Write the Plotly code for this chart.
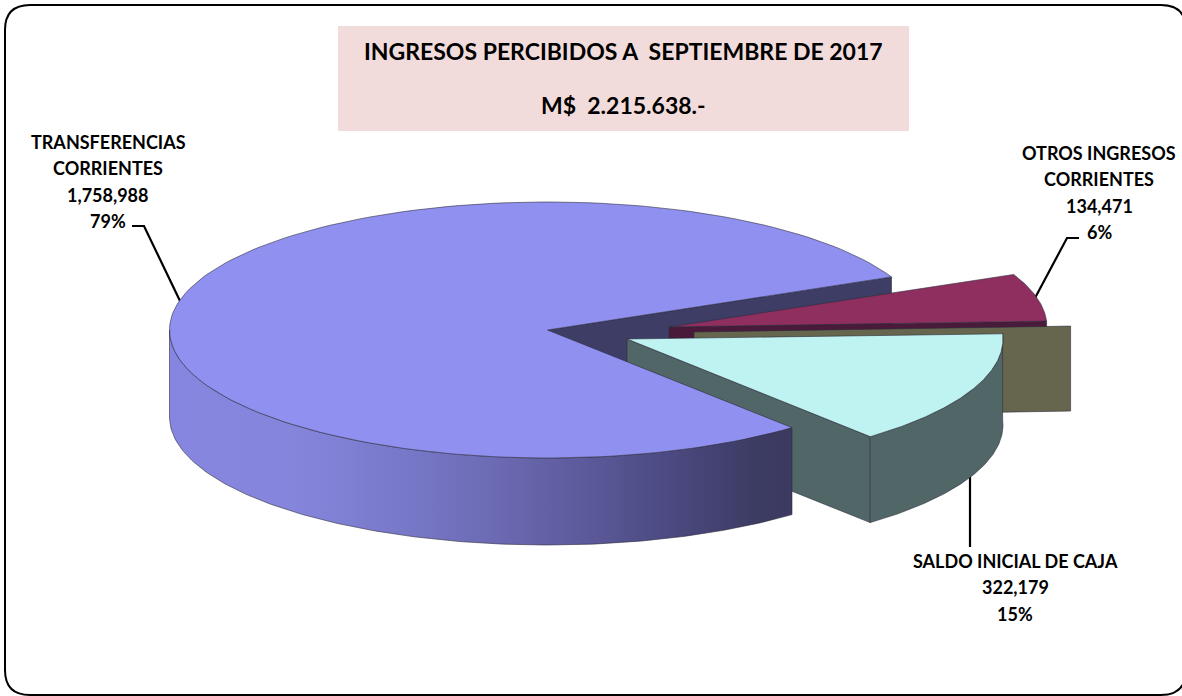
import numpy as np
import plotly.graph_objects as go

# ---- data ----
categories = ["TRANSFERENCIAS CORRIENTES", "OTROS INGRESOS CORRIENTES", "SALDO INICIAL DE CAJA"]
values = [1758988, 134471, 322179]
label_lines = [["TRANSFERENCIAS", "CORRIENTES"], ["OTROS INGRESOS", "CORRIENTES"], ["SALDO INICIAL DE CAJA"]]
title_lines = ["INGRESOS PERCIBIDOS A  SEPTIEMBRE DE 2017", "M$  2.215.638.-"]

# ---- projection of the tilted pie onto the canvas (canvas units = pixels) ----
W, H = 1182, 696
RX, RY, DEPTH = 378, 128, 87
START = 24.5                       # angle of first slice edge, degrees
total = sum(values)
share = [v / total for v in values]
big_end = START + 360 * share[0]   # counter-clockwise through the left side
otros_end = START - 360 * share[1]
saldo_end = otros_end - 360 * share[2]

C_BIG, C_OTROS, C_SALDO, C_OLIVE = (547.5, 330), (669, 327), (627, 339), (694, 332)
EDGE = "#2e2e3e"


def pt(c, deg, rx=RX, ry=RY, dy=0):
    a = np.radians(deg)
    return c[0] + rx * np.cos(a), c[1] - ry * np.sin(a) + dy


def arc(c, a0, a1, dy=0, rx=RX):
    t = np.linspace(a0, a1, 160)
    x, y = pt(c, t, rx=rx, dy=dy)
    return list(x), list(y)


fig = go.Figure()


def poly(x, y, fill, line=EDGE, width=0.6, **kw):
    fig.add_trace(go.Scatter(x=list(x) + [x[0]], y=list(y) + [y[0]], mode="lines", fill="toself",
                             fillcolor=fill, line=dict(color=line, width=width),
                             hoverinfo="skip", showlegend=False, **kw))


def leader(x, y):
    fig.add_trace(go.Scatter(x=x, y=y, mode="lines", line=dict(color="black", width=2.2),
                             hoverinfo="skip", showlegend=False))


def face(c, deg, fill, depth=DEPTH, rx=RX):
    ex, ey = pt(c, deg, rx=rx)
    poly([c[0], ex, ex, c[0]], [c[1], ey, ey + depth, c[1] + depth], fill)


def wall(c, a0, a1, fill, rx=RX, depth=DEPTH, **kw):
    x, y = arc(c, a0, a1, rx=rx)
    xb, yb = arc(c, a0, a1, dy=depth, rx=rx)
    poly(x + xb[::-1], y + yb[::-1], fill, **kw)


def top(c, a0, a1, fill, rx=RX):
    x, y = arc(c, a0, a1, rx=rx)
    poly([c[0]] + x, [c[1]] + y, fill)


# leader lines
leader([132, 144, 181], [226, 226, 303])
leader([1079, 1067, 1035], [238, 238, 298])
leader([970, 970], [470, 547])

# back cut face of the large slice
face(C_BIG, START, "#3d3d66")

# otros ingresos
face(C_OTROS, otros_end, "#4a1a3a", depth=84)
top(C_OTROS, START, otros_end, "#8f2f5f")

# olive cut face seen behind the saldo slice
face(C_OLIVE, otros_end, "#66664e", depth=85, rx=377)

# saldo inicial
face(C_SALDO, saldo_end, "#516666", depth=86, rx=376)
wall(C_SALDO, otros_end, saldo_end, "#516666", rx=376, depth=86)
top(C_SALDO, otros_end, saldo_end, "#bff3f2", rx=376)

# large slice
grad = dict(type="horizontal", start=172, stop=790,
            colorscale=[[0, "#8686e0"], [0.2, "#8585dc"], [0.4, "#7676c6"], [0.6, "#6462a6"],
                        [0.8, "#4c4a82"], [0.95, "#3c3b62"], [1, "#3c3a60"]])
wall(C_BIG, 180, big_end, "#8686e0", fillgradient=grad)
top(C_BIG, START, big_end, "#9090f0")

# title block
fig.add_shape(type="rect", x0=338, x1=909, y0=26, y1=131, fillcolor="#f2dcdb", line_width=0, layer="above")
# frame
fig.add_shape(type="path", layer="above", line=dict(color="black", width=2),
              path="M 30 5 L 1161 5 Q 1186 5 1186 30 L 1186 670 Q 1186 695 1161 695 L 30 695 Q 5 695 5 670 L 5 30 Q 5 5 30 5 Z")


def txt(x, y, s, size=18):
    fig.add_annotation(x=x, y=y, text=f"<b>{s}</b>", showarrow=False, xanchor="center", yanchor="middle",
                       font=dict(family="Lato, Carlito, 'Open Sans', sans-serif", size=size, color="black"))


for s, y in zip(title_lines, [51, 105]):
    txt(623.5, y, s, size=23)

anchors = [(108, 142), (1099, 153), (1015, 561)]
for (cx, y0), lines, v, p in zip(anchors, label_lines, values, share):
    rows = lines + [f"{v:,}", f"{round(p * 100)}%"]
    for i, s in enumerate(rows):
        txt(cx, y0 + i * 26.3, s)

fig.update_layout(width=W, height=H, margin=dict(l=0, r=0, t=0, b=0), autosize=False,
                  paper_bgcolor="white", plot_bgcolor="white", showlegend=False, hovermode=False,
                  xaxis=dict(range=[0, W], visible=False, fixedrange=True),
                  yaxis=dict(range=[H, 0], visible=False, fixedrange=True))

fig.write_html("out.html", config={"displayModeBar": False},
               post_script="document.body.style.margin='0';document.body.style.overflow='hidden';")
